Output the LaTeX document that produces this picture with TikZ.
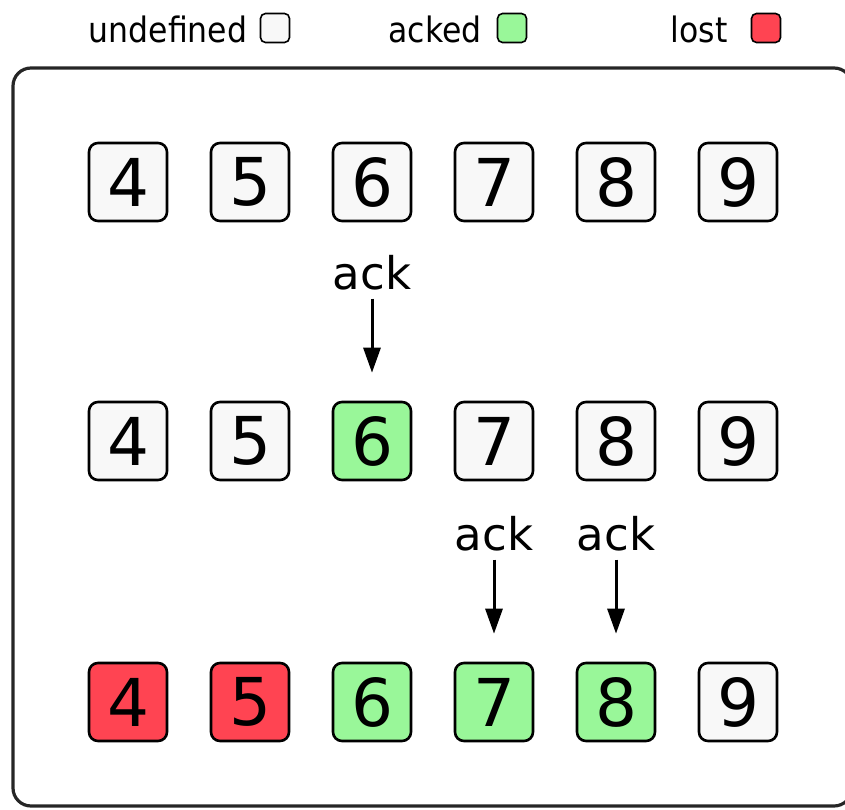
\documentclass[tikz,border=0pt]{standalone}
\usepackage{fontspec}
\setmainfont{DejaVu Sans}
\newfontfamily\legendfont{DejaVu Sans Condensed}
\usepackage{xcolor}
\usepackage{tikz}
\usetikzlibrary{arrows.meta,positioning}

\definecolor{undefcol}{HTML}{F8F8F8}
\definecolor{ackcol}{HTML}{99F799}
\definecolor{lostcol}{HTML}{FF4452}

\begin{document}
\begin{tikzpicture}[x=1pt,y=-1pt,
  seq/.style={draw,line width=2.6pt,rounded corners=9pt,minimum width=78pt,
              minimum height=78pt,inner sep=0pt,font=\fontsize{66}{66}\selectfont},
  undef/.style={seq,fill=undefcol},
  acked/.style={seq,fill=ackcol},
  lost/.style={seq,fill=lostcol},
  lbl/.style={font=\fontsize{45}{45}\selectfont,inner sep=2pt},
  legtext/.style={font=\legendfont\fontsize{35}{35}\selectfont,inner sep=0pt},
  legbox/.style={draw,line width=1.6pt,rounded corners=5pt,minimum width=29pt,
                 minimum height=29pt,inner sep=0pt},
  arr/.style={-{Triangle[length=25pt,width=17pt]},line width=3pt}
]
\useasboundingbox (0,0) rectangle (845,810);

% legend
\node[legtext] (lundef) at (168,29) {undefined};
\node[legbox,fill=undefcol] (sundef) at (275,28) {};
\node[legtext] (lacked) at (435,29) {acked};
\node[legbox,fill=ackcol] (sacked) at (512,28) {};
\node[legtext] (llost) at (699,29) {lost};
\node[legbox,fill=lostcol] (slost) at (766,28) {};

% frame
\draw[line width=3.2pt,black!85,rounded corners=18pt] (13,68) rectangle (852,806);

% row 1
\node[undef] (a4) at (128,182) {4};
\node[undef,right=41.4pt of a4] (a5) {5};
\node[undef,right=41.4pt of a5] (a6) {6};
\node[undef,right=41.4pt of a6] (a7) {7};
\node[undef,right=41.4pt of a7] (a8) {8};
\node[undef,right=41.4pt of a8] (a9) {9};

% row 2
\node[undef,below=178.4pt of a4] (b4) {4};
\node[undef,right=41.4pt of b4] (b5) {5};
\node[acked,right=41.4pt of b5] (b6) {6};
\node[undef,right=41.4pt of b6] (b7) {7};
\node[undef,right=41.4pt of b7] (b8) {8};
\node[undef,right=41.4pt of b8] (b9) {9};

% row 3
\node[lost,below=180.4pt of b4] (c4) {4};
\node[lost,right=41.4pt of c4] (c5) {5};
\node[acked,right=41.4pt of c5] (c6) {6};
\node[acked,right=41.4pt of c6] (c7) {7};
\node[acked,right=41.4pt of c7] (c8) {8};
\node[undef,right=41.4pt of c8] (c9) {9};

% acks
\node[lbl,above=108pt of b6] (ack6) {ack};
\node[lbl,above=108pt of c7] (ack7) {ack};
\node[lbl,above=108pt of c8] (ack8) {ack};

\draw[arr,shorten <=6pt,shorten >=28pt] (ack6) -- (b6);
\draw[arr,shorten <=6pt,shorten >=28pt] (ack7) -- (c7);
\draw[arr,shorten <=6pt,shorten >=28pt] (ack8) -- (c8);
\end{tikzpicture}
\end{document}
